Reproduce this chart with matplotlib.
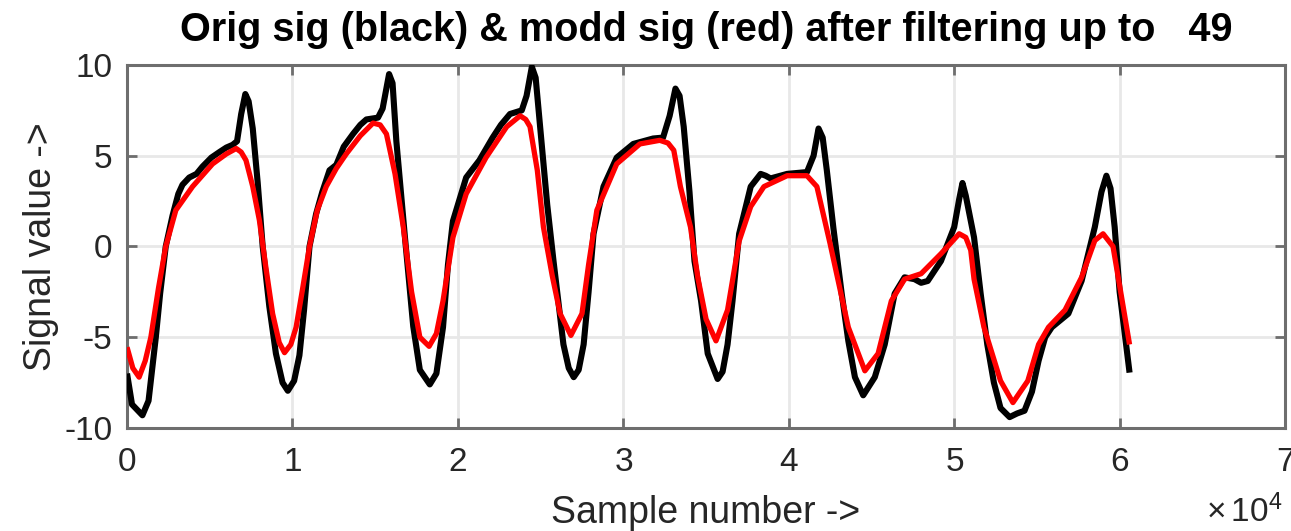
import matplotlib
matplotlib.use("Agg")
import matplotlib.pyplot as plt
from matplotlib.ticker import ScalarFormatter

plt.rcParams['font.family'] = ['Liberation Sans', 'DejaVu Sans']
plt.rcParams['mathtext.fontset'] = 'custom'
plt.rcParams['mathtext.rm'] = 'Liberation Sans'
plt.rcParams['axes.unicode_minus'] = False

# ---------------------------------------------------------
# DATA (sample numbers)
# ---------------------------------------------------------
orig_x = [0, 300, 930, 1300, 1740, 2000, 2340, 2750, 3100, 3350, 3760, 4200,
          4560, 5100, 5580, 6000, 6380, 6650, 6900, 7150, 7350, 7600, 7900,
          8200, 8600, 9000, 9400, 9720, 10100, 10420, 10700, 11030, 11430,
          11800, 12240, 12650, 13100, 13660, 14100, 14470, 15170, 15450,
          15840, 16050, 16280, 16800, 17300, 17700, 18300, 18700, 19100,
          19400, 19700, 20500, 21300, 22100, 22600, 23150, 23860, 24150,
          24470, 24700, 24970, 25400, 25780, 26380, 26700, 27000, 27300,
          27600, 27900, 28200, 28800, 29600, 30600, 31800, 32400, 32800,
          33150, 33400, 33650, 34000, 34300, 34700, 35100, 35700, 36000,
          36300, 36600, 37000, 37700, 38300, 38600, 38900, 39900, 41100,
          41500, 41800, 42050, 42300, 42700, 43200, 43600, 44000, 44500,
          45200, 45800, 46400, 47000, 47600, 48000, 48400, 49200, 50000,
          50300, 50500, 50700, 51200, 51600, 52000, 52400, 52800, 53350,
          53800, 54250, 54700, 55100, 55500, 55900, 56900, 57700, 58500,
          58900, 59200, 59450, 59700, 60000, 60600]
orig_y = [-7.0, -8.7, -9.3, -8.5, -5.0, -2.6, 0.0, 1.7, 2.9, 3.4, 3.8, 4.0,
          4.4, 4.9, 5.2, 5.45, 5.6, 5.8, 7.3, 8.4, 8.0, 6.5, 3.5,
          0.0, -3.3, -5.9, -7.5, -7.95, -7.4, -6.0, -3.5, 0.0, 1.8,
          3.0, 4.2, 4.5, 5.5, 6.2, 6.7, 7.0, 7.1, 7.6,
          9.5, 9.0, 5.8, 0.5, -4.4, -6.8, -7.6, -7.0, -4.45,
          -1.0, 1.4, 3.8, 4.75, 6.0, 6.7, 7.3, 7.5, 8.3,
          9.9, 9.3, 6.6, 2.3, -0.8, -5.4, -6.7, -7.2, -6.8,
          -5.4, -2.5, 0.7, 3.3, 4.9, 5.65, 5.95, 6.0, 7.2,
          8.7, 8.3, 6.6, 3.0, -0.8, -3.0, -5.9, -7.3, -6.9,
          -5.4, -3.0, 0.7, 3.3, 4.0, 3.9, 3.75, 4.0, 4.1,
          5.0, 6.5, 6.0, 4.2, 1.0, -2.6, -5.2, -7.2, -8.2,
          -7.2, -5.4, -2.6, -1.7, -1.8, -2.0, -1.9, -0.8, 1.07,
          2.6, 3.5, 2.8, 0.5, -2.6, -5.4, -7.5, -8.9, -9.4,
          -9.2, -9.05, -8.0, -6.3, -5.0, -4.45, -3.7, -1.9, 1.07,
          3.0, 3.9, 3.2, 1.07, -2.5, -6.95]

modd_x = [0, 350, 730, 1100, 1440, 1900, 2340, 2950, 3960, 5170, 6000, 6600,
          6900, 7190, 7600, 8000, 8400, 8800, 9200, 9520, 9900, 10220, 10600,
          11030, 11500, 12040, 12650, 13250, 14100, 14870, 15300, 15680,
          16200, 16700, 17200, 17700, 18260, 18700, 19100, 19700, 20500,
          21700, 22950, 23760, 24100, 24360, 24800, 25170, 25700, 26180,
          26830, 27500, 27900, 28400, 29600, 31000, 32200, 32700, 33050,
          33450, 34060, 34500, 35000, 35600, 36300, 37000, 37700, 38500,
          39900, 41100, 41700, 42500, 43600, 44600, 45400, 46200, 47000,
          48000, 49200, 50300, 50700, 51000, 51200, 51800, 52800, 53550,
          54450, 55100, 55700, 56700, 57700, 58500, 59000, 59600, 60600]
modd_y = [-5.55, -6.7, -7.2, -6.3, -5.0, -2.3, 0.0, 2.0, 3.3, 4.55, 5.1, 5.4,
          5.2, 4.75, 3.3, 1.45, -1.2, -3.7, -5.3, -5.85, -5.4, -4.45, -2.4,
          0.0, 2.0, 3.3, 4.3, 5.1, 6.1, 6.8, 6.7, 6.2,
          4.0, 1.07, -2.5, -5.0, -5.5, -4.8, -3.0, 0.5, 2.9,
          4.9, 6.6, 7.2, 7.0, 6.6, 4.2, 1.07, -1.6, -3.7,
          -4.9, -3.7, -1.0, 2.0, 4.55, 5.65, 5.85, 5.7, 5.3,
          3.3, 1.07, -1.7, -4.0, -5.2, -3.5, 0.3, 2.2, 3.3,
          3.9, 3.9, 3.3, 0.15, -4.45, -6.85, -5.9, -3.0, -1.8,
          -1.5, -0.4, 0.7, 0.5, -0.2, -1.8, -4.45, -7.4, -8.6,
          -7.4, -5.4, -4.45, -3.5, -1.7, 0.33, 0.7, 0.0, -5.4]

X_TICKS = [0, 10000, 20000, 30000, 40000, 50000, 60000, 70000]
Y_TICKS = [-10, -5, 0, 5, 10]
FILTER_ORDER = 49

# ---------------------------------------------------------
# STYLE
# ---------------------------------------------------------
AX_COLOR = "#6e6e6e"
TXT_COLOR = "#262626"

fig = plt.figure(figsize=(12.91, 5.31), dpi=100)
ax = fig.add_axes([0.0984, 0.194, 0.8970, 0.6836])

ax.plot(orig_x, orig_y, color="black", lw=4.4, solid_joinstyle="round",
        solid_capstyle="butt", zorder=3)
ax.plot(modd_x, modd_y, color="red", lw=3.8, solid_joinstyle="round",
        solid_capstyle="butt", zorder=4)

ax.set_xlim(0, 70000)
ax.set_ylim(-10, 10)
ax.set_xticks(X_TICKS)
ax.set_yticks(Y_TICKS)

fmt = ScalarFormatter(useMathText=True)
fmt.set_powerlimits((0, 0))
ax.xaxis.set_major_formatter(fmt)
ax.xaxis.get_offset_text().set_visible(False)

ax.grid(True, color="#e8e8e8", lw=2.0, zorder=0)
ax.set_axisbelow(True)

for sp in ax.spines.values():
    sp.set_color(AX_COLOR)
    sp.set_linewidth(2.2)

ax.tick_params(direction="in", length=7.5, width=2.0, color=AX_COLOR,
               top=True, right=True, labelsize=24, labelcolor=TXT_COLOR)
ax.tick_params(axis="x", pad=14)
ax.tick_params(axis="y", pad=10.5)

# exponent label under the right end of the x axis
fig.text(1283 / 1291, 1 - 522 / 531, r"$\times\,\mathdefault{10^{4}}$",
         ha="right", va="baseline", fontsize=24, color=TXT_COLOR)

ax.set_xlabel("Sample number ->", fontsize=27, color=TXT_COLOR, labelpad=12)
ax.set_ylabel("Signal value ->", fontsize=27, color=TXT_COLOR, labelpad=4)
ax.set_title("Orig sig (black) & modd sig (red) after filtering up to   %d"
             % FILTER_ORDER, fontsize=28.5, fontweight="bold", pad=17)

fig.savefig("out.png", dpi=100)
